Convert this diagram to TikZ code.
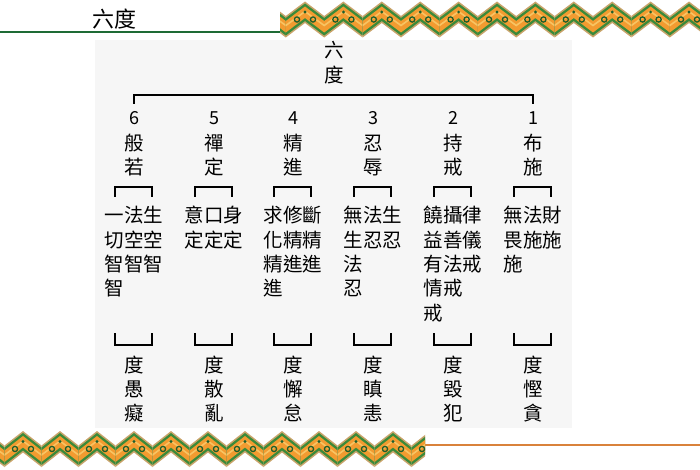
\documentclass[tikz,border=0pt]{standalone}
\usepackage{fontspec}
\newfontfamily\cjk{Noto Sans CJK TC}
\definecolor{linegreen}{HTML}{1E6B35}
\definecolor{bandedge}{HTML}{C9A46A}
\definecolor{bandgreen}{HTML}{3A8A3A}
\definecolor{banddark}{HTML}{1F5E2A}
\definecolor{bandorange}{HTML}{F29B30}
\definecolor{bandyellow}{HTML}{F7C463}
\definecolor{lineorange}{HTML}{D9823B}
\definecolor{panel}{HTML}{F6F6F6}
\tikzset{
  cjkbox/.style={font=\cjk\fontsize{19.5}{20}\selectfont, inner sep=0pt, text height=16.2pt, text depth=1.4pt},
  numbox/.style={font=\cjk\fontsize{18}{20}\selectfont, inner sep=0pt, text height=13.2pt, text depth=0pt},
  titlebox/.style={font=\cjk\fontsize{22}{24}\selectfont, inner sep=0pt, text height=18.3pt, text depth=1.5pt},
  descrow/.style={cjkbox, anchor=west},
  brk/.style={line width=2.5pt, line cap=butt, line join=miter, draw=black},
}
\newcommand{\myband}[5]{% #1 first peak x, #2 period, #3 kmin, #4 kmax, #5 y offset
  \foreach \k in {#3,...,#4} {
    \pgfmathsetmacro{\cx}{#1+#2*\k}
    \pgfmathsetmacro{\hh}{#2/2}
    \fill[bandedge] (\cx-\hh,#5+16) -- (\cx,#5+1.5) -- (\cx+\hh,#5+16) -- (\cx+\hh,#5+37.5) -- (\cx,#5+23) -- (\cx-\hh,#5+37.5) -- cycle;
    \fill[bandgreen] (\cx-\hh,#5+18) -- (\cx,#5+3.5) -- (\cx+\hh,#5+18) -- (\cx+\hh,#5+35.5) -- (\cx,#5+21) -- (\cx-\hh,#5+35.5) -- cycle;
    \fill[bandorange] (\cx-\hh,#5+21) -- (\cx,#5+6.5) -- (\cx+\hh,#5+21) -- (\cx+\hh,#5+32.5) -- (\cx,#5+18) -- (\cx-\hh,#5+32.5) -- cycle;
    \fill[bandyellow] (\cx-\hh,#5+24.5) -- (\cx,#5+10.5) -- (\cx+\hh,#5+24.5) -- (\cx+\hh,#5+26.5) -- (\cx,#5+12.5) -- (\cx-\hh,#5+26.5) -- cycle;
    \draw[banddark, line width=1.3pt] (\cx-8,#5+19.5) circle (2.6);
    \draw[banddark, line width=1.3pt] (\cx+8,#5+19.5) circle (2.6);
    \fill[banddark] (\cx,#5+12) circle (1.6);
  }
}
\begin{document}
\begin{tikzpicture}[x=1pt, y=-1pt]
\useasboundingbox (0,0) rectangle (700,470);
\fill[white] (0,0) rectangle (700,470);
\fill[panel] (95,40) rectangle (572,428);

% top border
\draw[linegreen, line width=2pt] (0,32) -- (281,32);
\begin{scope}
  \clip (280,0) rectangle (700,42);
  \myband{305}{38.4}{-1}{11}{0}
\end{scope}
% bottom border
\draw[lineorange, line width=2pt] (424,445) -- (700,445);
\begin{scope}
  \clip (0,426) rectangle (425,470);
  \myband{23}{37}{-1}{11}{429.5}
\end{scope}

% title
\node[titlebox] (title) at (114,19) {六度};

% root
\node[cjkbox] (root1) at (334,50) {六};
\node[cjkbox] (root2) at (334,75) {度};

% top bracket
\coordinate (tbl) at (134,104);
\coordinate (tblc) at (134,95);
\coordinate (tbrc) at (533,95);
\coordinate (tbr) at (533,104);
\draw[brk] (tbl) -- (tblc) -- (tbrc) -- (tbr);

% numbers and names
\foreach \cx/\n/\a/\b in {134/6/般/若, 214/5/禪/定, 293/4/精/進, 373/3/忍/辱, 453/2/持/戒, 533/1/布/施} {
  \node[numbox] (num\n) at (\cx,118) {\n};
  \node[cjkbox] (name\n a) at (\cx,143) {\a};
  \node[cjkbox] (name\n b) at (\cx,167) {\b};
  \coordinate (ub\n l) at (\cx-19,197);
  \coordinate (ub\n lc) at (\cx-19,187);
  \coordinate (ub\n rc) at (\cx+18,187);
  \coordinate (ub\n r) at (\cx+18,197);
  \draw[brk] (ub\n l) -- (ub\n lc) -- (ub\n rc) -- (ub\n r);
  \coordinate (lb\n l) at (\cx-19,333);
  \coordinate (lb\n lc) at (\cx-19,345);
  \coordinate (lb\n rc) at (\cx+18,345);
  \coordinate (lb\n r) at (\cx+18,333);
  \draw[brk] (lb\n l) -- (lb\n lc) -- (lb\n rc) -- (lb\n r);
}

% descriptions
\node[descrow] (d6a) at (104.5,215) {一法生};
\node[descrow] (d6b) at (104.5,240) {切空空};
\node[descrow] (d6c) at (104.5,264) {智智智};
\node[descrow] (d6d) at (104.5,288) {智};

\node[descrow] (d5a) at (184.5,215) {意口身};
\node[descrow] (d5b) at (184.5,240) {定定定};

\node[descrow] (d4a) at (263.5,215) {求修斷};
\node[descrow] (d4b) at (263.5,240) {化精精};
\node[descrow] (d4c) at (263.5,264) {精進進};
\node[descrow] (d4d) at (263.5,288) {進};

\node[descrow] (d3a) at (343.5,215) {無法生};
\node[descrow] (d3b) at (343.5,240) {生忍忍};
\node[descrow] (d3c) at (343.5,264) {法};
\node[descrow] (d3d) at (343.5,288) {忍};

\node[descrow] (d2a) at (423.5,215) {饒攝律};
\node[descrow] (d2b) at (423.5,240) {益善儀};
\node[descrow] (d2c) at (423.5,264) {有法戒};
\node[descrow] (d2d) at (423.5,288) {情戒};
\node[descrow] (d2e) at (423.5,313) {戒};

\node[descrow] (d1a) at (503.5,215) {無法財};
\node[descrow] (d1b) at (503.5,240) {畏施施};
\node[descrow] (d1c) at (503.5,264) {施};

% bottom
\foreach \cx/\n/\a/\b in {134/6/愚/癡, 214/5/散/亂, 293/4/懈/怠, 373/3/瞋/恚, 453/2/毀/犯, 533/1/慳/貪} {
  \node[cjkbox] (b\n a) at (\cx,365) {度};
  \node[cjkbox] (b\n b) at (\cx,389) {\a};
  \node[cjkbox] (b\n c) at (\cx,413) {\b};
}
\end{tikzpicture}
\end{document}
